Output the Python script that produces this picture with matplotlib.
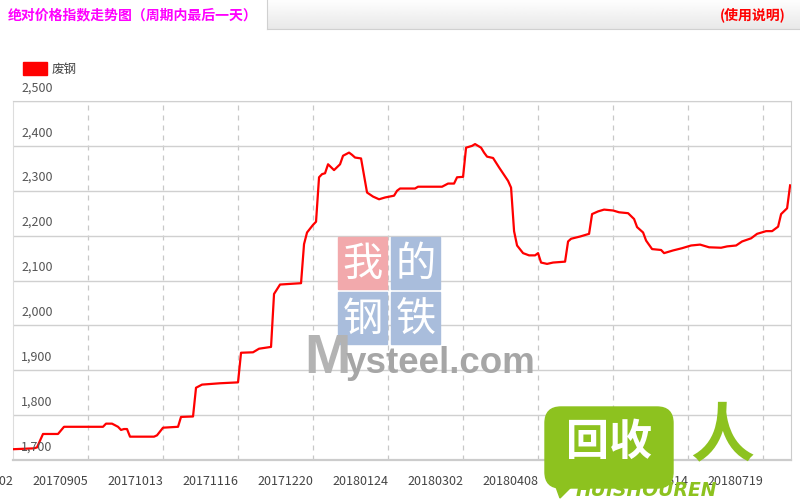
import numpy as np
import matplotlib
matplotlib.use('Agg')
from matplotlib import pyplot as plt
from matplotlib.patches import Patch, Rectangle, FancyBboxPatch, Polygon

plt.rcParams['font.family'] = ['Noto Sans CJK SC', 'DejaVu Sans']

# trading-day index of each turning point of the 废钢 index, and its value
days = [0, 7, 8, 10, 15, 17, 30, 31, 33, 35, 36, 37, 38, 39, 47, 48, 50, 55,
        56, 60, 61, 63, 69, 75, 76, 80, 82, 86, 87, 89, 96, 97, 98, 100, 101,
        102, 103, 104, 105, 107, 109, 110, 112, 113, 114, 116, 118, 120, 122,
        124, 127, 128, 129, 134, 135, 143, 145, 147, 148, 150, 151, 153, 154,
        156, 157, 158, 160, 162, 165, 166, 167, 168, 170, 172, 174, 175, 176,
        178, 180, 184, 185, 186, 189, 192, 193, 195, 197, 200, 202, 205, 207,
        208, 210, 211, 213, 216, 217, 220, 223, 226, 229, 232, 236, 238, 241,
        243, 246, 248, 251, 253, 255, 256, 258, 259]
price = [1724, 1726, 1728, 1758, 1758, 1774, 1774, 1781, 1781, 1774, 1767,
         1769, 1769, 1752, 1752, 1755, 1772, 1774, 1796, 1797, 1861, 1868,
         1871, 1873, 1939, 1940, 1948, 1952, 2070, 2091, 2094, 2181, 2207,
         2224, 2231, 2330, 2337, 2339, 2359, 2346, 2359, 2378, 2385, 2380,
         2374, 2372, 2296, 2287, 2281, 2285, 2289, 2300, 2305, 2305, 2309,
         2309, 2316, 2316, 2330, 2331, 2396, 2400, 2404, 2396, 2385, 2376,
         2373, 2352, 2322, 2307, 2210, 2178, 2161, 2156, 2156, 2161, 2140,
         2137, 2140, 2142, 2187, 2193, 2198, 2204, 2248, 2254, 2258, 2256,
         2252, 2250, 2237, 2219, 2207, 2189, 2170, 2168, 2161, 2167, 2172,
         2178, 2180, 2174, 2173, 2176, 2178, 2187, 2194, 2204, 2210, 2210,
         2220, 2248, 2261, 2312]

tick_days = list(range(0, 251, 25))
tick_labels = ['20170802', '20170905', '20171013', '20171116', '20171220',
               '20180124', '20180302', '20180408', '20180511', '20180614',
               '20180719']
y_ticks = [1700, 1800, 1900, 2000, 2100, 2200, 2300, 2400, 2500]

W, H = 800, 500


def fx(px):
    return px / W


def fy(py):
    return 1 - py / H


def ix(px):
    return px / 100


def iy(py):
    return (H - py) / 100


fig = plt.figure(figsize=(8, 5), dpi=100)
ax = fig.add_axes([fx(13), fy(460), fx(791) - fx(13), fy(101) - fy(460)])

ax.plot(days, price, color='#ff0000', lw=1.6, zorder=3, solid_joinstyle='round')
ax.set_xlim(0, 259.3)
ax.set_ylim(1700, 2500)

ax.set_yticks(y_ticks)
ax.set_yticklabels([])
ax.tick_params(axis='y', length=0)
ax.grid(axis='y', color='#d0d0d0', lw=1)
for v in y_ticks:
    ax.annotate(f'{v:,}', (0, v), xycoords=('axes fraction', 'data'),
                xytext=(6, 9.5), textcoords='offset points', fontsize=9,
                color='#555555', va='center', annotation_clip=False)

ax.set_xticks(tick_days)
ax.set_xticklabels(tick_labels, fontsize=9, color='#444444')
for lab in ax.get_xticklabels():
    lab.set_ha('right')
ax.tick_params(axis='x', length=0, pad=11)
for d in tick_days[1:]:
    ax.axvline(d, color='#c8c8c8', lw=0.9, ls=(0, (4, 4)), zorder=1)

ax.spines['top'].set_color('#d0d0d0')
ax.spines['left'].set_color('#dddddd')
ax.spines['right'].set_color('#cccccc')
ax.spines['bottom'].set_color('#cccccc')
ax.spines['bottom'].set_linewidth(1.6)

ax.legend(handles=[Patch(color='#ff0000', label='废钢')], loc='upper left',
          bbox_to_anchor=(fx(23), fy(62)), bbox_transform=fig.transFigure,
          frameon=False, fontsize=9, handlelength=1.9, handleheight=1.2,
          handletextpad=0.4, borderpad=0, borderaxespad=0, labelcolor='#444444')

# header bar
hdr = fig.add_axes([fx(267), fy(29), 1 - fx(267), 29 / H])
grad = np.linspace(0.995, 0.91, 50)[:, None]
hdr.imshow(grad, aspect='auto', cmap='gray', vmin=0, vmax=1, extent=[0, 1, 0, 1])
hdr.set_xticks([])
hdr.set_yticks([])
for s in hdr.spines.values():
    s.set_color('#d0d0d0')
hdr.spines['right'].set_visible(False)
hdr.spines['top'].set_visible(False)

fig.text(fx(8), fy(15), '绝对价格指数走势图（周期内最后一天）', color='#ff00ff',
         fontsize=10, fontweight='bold', va='center')
fig.text(fx(786), fy(15), '(使用说明)', color='#ff0000', fontsize=10,
         fontweight='bold', ha='right', va='center')

# Mysteel watermark
wm_chars = ['我', '的', '钢', '铁']
wm_colors = ['#f2a9ac', '#a9bddc', '#a9bddc', '#a9bddc']
for i, (ch, col) in enumerate(zip(wm_chars, wm_colors)):
    x0 = 338 + (i % 2) * 53
    y0 = 237 + (i // 2) * 55
    ax.add_patch(Rectangle((ix(x0), iy(y0 + 52)), 0.49, 0.52,
                           transform=fig.dpi_scale_trans, color=col,
                           zorder=2, clip_on=False))
    ax.text(ix(x0 + 24.5), iy(y0 + 27), ch, transform=fig.dpi_scale_trans,
            color='white', fontsize=29, ha='center', va='center', zorder=2.1)
ax.text(ix(304), iy(373), 'M', transform=fig.dpi_scale_trans, color='#b3b3b3',
        fontsize=40, fontweight='bold', family='Liberation Sans',
        va='baseline', zorder=2)
ax.text(ix(346), iy(373), 'ysteel.com', transform=fig.dpi_scale_trans,
        color='#a6a6a6', fontsize=26.5, fontweight='bold',
        family='Liberation Sans', va='baseline', zorder=2)

# HUISHOUREN logo
green = '#8dc21f'
ax.add_patch(FancyBboxPatch((ix(545), iy(488)), 1.28, 0.81,
                            boxstyle='round,pad=0,rounding_size=0.16',
                            transform=fig.dpi_scale_trans, color=green,
                            zorder=6, clip_on=False))
ax.add_patch(Polygon([(ix(550), iy(470)), (ix(578), iy(480)), (ix(560), iy(498))],
                     transform=fig.dpi_scale_trans, color=green, zorder=6,
                     clip_on=False))
ax.text(ix(609), iy(442), '回收', transform=fig.dpi_scale_trans, color='white',
        fontsize=31, fontweight='bold', ha='center', va='center', zorder=7)
ax.text(ix(722), iy(437), '人', transform=fig.dpi_scale_trans, color=green,
        fontsize=46, fontweight='bold', ha='center', va='center', zorder=7)
ax.text(ix(646), iy(491), 'HUISHOUREN', transform=fig.dpi_scale_trans,
        color=green, fontsize=13.5, fontweight='bold', style='italic',
        family='DejaVu Sans', ha='center', va='center', zorder=7)

fig.savefig('out.png', dpi=100)
